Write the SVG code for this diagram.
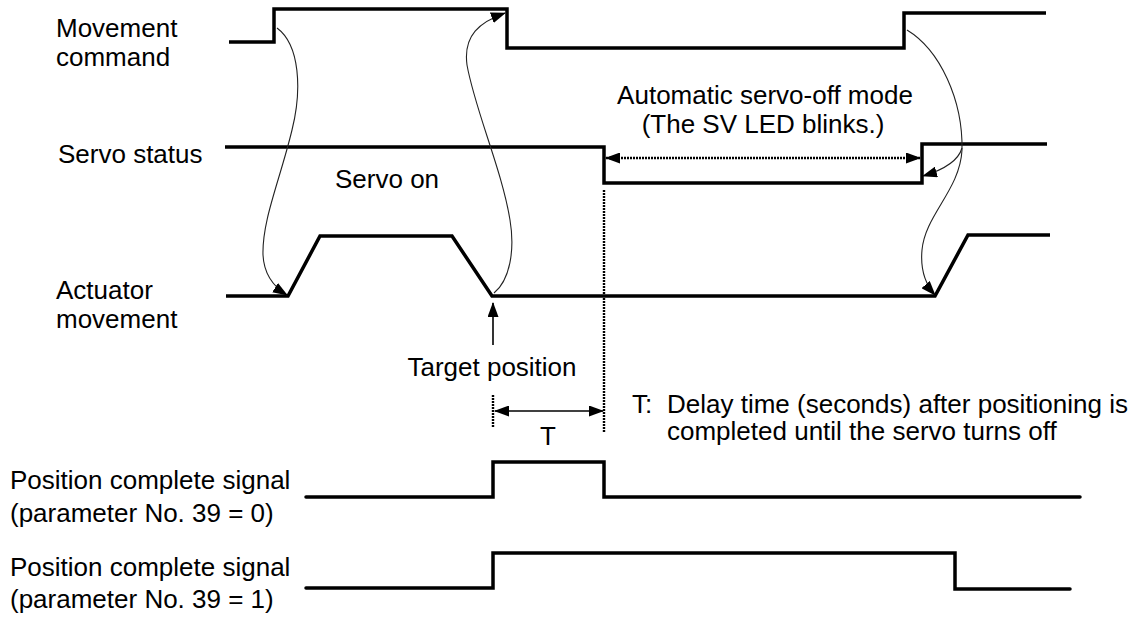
<svg xmlns="http://www.w3.org/2000/svg" width="1142" height="617" viewBox="0 0 1142 617">
<style>
  text { font-family: "Liberation Sans", Arial, sans-serif; font-size: 26px; fill: #000; }
  .sig { fill: none; stroke: #000; stroke-width: 3.5; stroke-linejoin: miter; }
  .thin { fill: none; stroke: #222; stroke-width: 1.1; }
  .dot { fill: none; stroke: #000; stroke-width: 2.4; stroke-dasharray: 2 1; }
  .solid { fill: none; stroke: #000; stroke-width: 1.6; }
</style>
<defs>
  <marker id="ah" markerUnits="userSpaceOnUse" markerWidth="15" markerHeight="11" refX="14" refY="5.5" orient="auto-start-reverse">
    <path d="M0,0 L15,5.5 L0,11 z" fill="#000"/>
  </marker>
</defs>
<rect width="1142" height="617" fill="#fff"/>

<g id="labels">
  <text x="56" y="37">Movement</text>
  <text x="56" y="66">command</text>
  <text x="58" y="163">Servo status</text>
  <text x="56" y="299">Actuator</text>
  <text x="56" y="328">movement</text>
  <text x="10" y="489">Position complete signal</text>
  <text x="10" y="522">(parameter No. 39 = 0)</text>
  <text x="10" y="576">Position complete signal</text>
  <text x="10" y="608">(parameter No. 39 = 1)</text>
</g>

<g id="movement-command">
  <path class="sig" d="M229,42 H274 V9 H507 V48 H904 V13 H1046"/>
</g>
<g id="servo-status">
  <path class="sig" d="M225,147 H604 V183 H922 V144 H1047" stroke-width="3"/>
  <text x="335" y="188">Servo on</text>
  <text x="765" y="104" text-anchor="middle">Automatic servo-off mode</text>
  <text x="763" y="133" text-anchor="middle">(The SV LED blinks.)</text>
</g>
<g id="actuator-movement">
  <path class="sig" d="M226,296 H288 L320,236 H452 L492,296 H935 L968,235 H1050"/>
</g>
<g id="target-position">
  <text x="492" y="376" text-anchor="middle">Target position</text>
</g>
<g id="delay-note">
  <text x="548" y="445" text-anchor="middle">T</text>
  <text x="632" y="413">T:</text>
  <text x="667" y="413">Delay time (seconds) after positioning is</text>
  <text x="667" y="440">completed until the servo turns off</text>
</g>
<g id="position-complete-0">
  <path class="sig" d="M306,497 H493 V462 H604 V497 H1080" stroke-linecap="round"/>
</g>
<g id="position-complete-1">
  <path class="sig" d="M306,588 H493 V553 H955 V589 H1070" stroke-linecap="round"/>
</g>

<g id="connectors">
  <path class="thin" marker-end="url(#ah)" d="M277,28 C300,45 302,90 292,130 C280,180 262,220 263,255 C264,275 274,287 287,295"/>
  <path class="thin" marker-end="url(#ah)" d="M494,293 C510,280 515,250 510,220 C502,170 475,110 467,65 C463,35 480,22 505,13"/>
  <path class="thin" d="M907,30 C940,50 963,100 962,150"/>
  <path class="thin" marker-end="url(#ah)" d="M962,148 C958,162 943,170 923,176"/>
  <path class="thin" marker-end="url(#ah)" d="M962,150 C960,190 925,215 922,250 C920,272 926,285 935,295"/>
  <path class="dot" marker-start="url(#ah)" marker-end="url(#ah)" d="M606,158 H920"/>
  <path class="dot" d="M604,190 V433"/>
  <path class="dot" d="M493,395 V428"/>
  <path class="solid" marker-start="url(#ah)" marker-end="url(#ah)" d="M495,411 H603"/>
  <path class="solid" stroke-width="2" marker-end="url(#ah)" d="M493,345 V303"/>
</g>
</svg>
